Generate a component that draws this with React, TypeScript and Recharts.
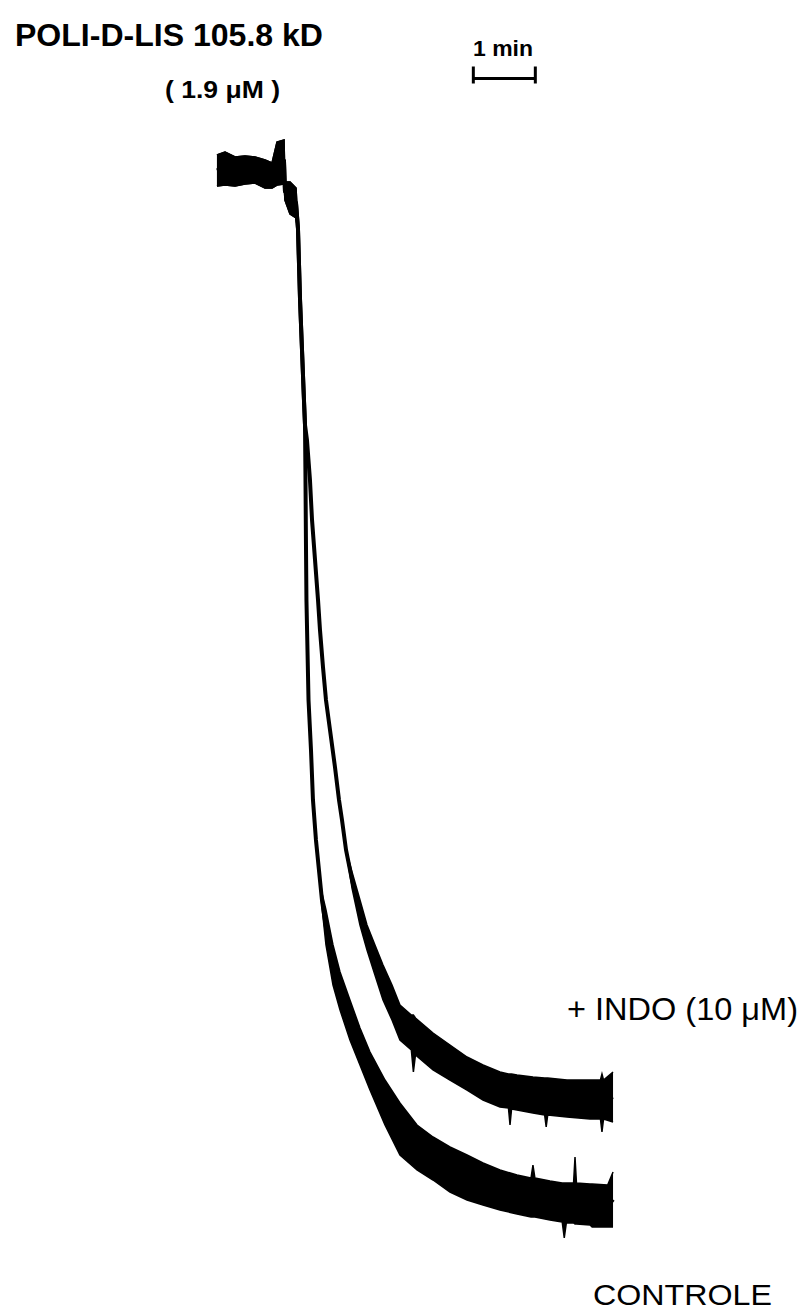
import { ComposedChart, Area, Line, XAxis, YAxis, ReferenceLine } from 'recharts';

// time in s, signal in arbitrary units (chart trace deflection)
const commonTime = [1.9, 9.7, 19.4, 29, 38.7, 48.4, 55.2, 60, 66.8, 67.7, 72.6, 78.4, 80.3, 82.3, 84.2, 86.1, 87.1];
const commonUpper = [107.5, 107.8, 107.3, 107.4, 107.3, 107, 106.7, 108.8, 109, 104.8, 104.8, 104.2, 100.5, 93, 88, 83, 80.5];
const commonLower = [104.4, 104.5, 104.4, 104.6, 104.7, 104.2, 104.2, 104.5, 104.6, 103, 101.6, 101.2, 99.8, 93, 88, 83, 80.5];

const controlTime = [87.5, 88, 88.5, 89.5, 90.5, 92.9, 94.8, 97.7, 100.6, 103.5, 107.4, 114.2, 121, 130.6, 140.3, 150, 164.5, 179, 195.5, 211, 227.4, 243.9, 259.4, 275.8, 292.3, 305.8, 307.7, 309.6, 324.2, 336, 338, 340, 347, 348.4, 349.8, 362.9, 365, 380, 385.2];
const controlUpper = [76, 69, 63, 58, 53, 48, 43, 39, 36, 33.7, 32, 28.5, 25.8, 23, 20.2, 17.8, 15, 12.7, 10.5, 9.3, 8.3, 7.5, 6.7, 6, 5.5, 5.2, 6.5, 5.2, 4.9, 4.7, 4.7, 4.7, 4.7, 7.3, 4.7, 4.6, 4.6, 4.5, 5.8];
const controlLower = [76, 69, 63, 58, 53, 48, 43, 39, 36, 32.3, 28.5, 24.5, 22, 19, 16.5, 14, 10.5, 7.5, 6, 5, 3.8, 3, 2.5, 2, 1.6, 1.3, 1.3, 1.3, 1.0, 0.8, -0.8, 0.7, 0.7, 0.6, 0.6, 0.5, 0.3, 0.3, 0.3];

const indoTime = [89, 91.9, 93.9, 96.8, 99.7, 101.6, 104.5, 107.4, 111.3, 116.1, 120, 122.9, 126.8, 132.6, 140.3, 147.1, 154.8, 162.6, 171.3, 179, 190, 192, 194, 211, 227.4, 243.9, 259.4, 275.8, 284, 285.5, 287, 292.3, 307.7, 319, 320.5, 322, 340.6, 362.9, 373, 374.5, 376, 385.2];
const indoUpper = [79, 75, 71, 67, 63, 60, 56.3, 53, 50, 46.3, 43, 41, 38, 35.8, 33, 30.5, 28.5, 26.5, 24.5, 22.5, 21.5, 21.5, 21.2, 19.7, 18.5, 17.3, 16.5, 15.8, 15.6, 15.6, 15.6, 15.5, 15.3, 15.2, 15.2, 15.2, 15, 15, 15, 15.6, 15, 15.8];
const indoLower = [79, 75, 71, 67, 63, 60, 56.3, 53, 50, 46.3, 43, 41, 38, 34.2, 30.5, 28, 25.5, 23, 21, 19, 18, 15.8, 17.5, 16, 15, 14, 13, 12.3, 12.2, 10.5, 12.1, 12, 11.7, 11.5, 10.3, 11.5, 11.3, 11.1, 11.1, 9.8, 11.1, 10.8];

// 1 min scale bar
const scaleStart = 250;
const scaleEnd = 310;
const scaleLevel = 115.15;

const toRows = (time: number[], upper: number[], lower: number[]) =>
  time.map((t, i) => ({ t, band: [lower[i], upper[i]], mid: (upper[i] + lower[i]) / 2 }));

const controlData = toRows(
  [...commonTime, ...controlTime],
  [...commonUpper, ...controlUpper],
  [...commonLower, ...controlLower]
);
const indoData = toRows(
  [...commonTime, ...indoTime],
  [...commonUpper, ...indoUpper],
  [...commonLower, ...indoLower]
);

const font = '"Liberation Sans", Arial, Helvetica, sans-serif';

export default function App() {
  return (
    <div style={{ position: 'absolute', left: 0, top: 0, width: 803, height: 1310, background: '#fff' }}>
      <ComposedChart width={803} height={1310} margin={{ top: 0, right: 174.67, bottom: 0, left: 215 }}>
        <XAxis type="number" dataKey="t" domain={[0, 400]} hide allowDataOverflow />
        <YAxis type="number" domain={[-8, 123]} hide allowDataOverflow />
        <Area data={controlData} dataKey="band" type="linear" stroke="#000" strokeWidth={1.5} fill="#000" fillOpacity={1} isAnimationActive={false} />
        <Area data={indoData} dataKey="band" type="linear" stroke="#000" strokeWidth={1.5} fill="#000" fillOpacity={1} isAnimationActive={false} />
        <Line data={controlData} dataKey="mid" type="linear" stroke="#000" strokeWidth={4} dot={false} isAnimationActive={false} />
        <Line data={indoData} dataKey="mid" type="linear" stroke="#000" strokeWidth={4} dot={false} isAnimationActive={false} />
        <ReferenceLine segment={[{ x: scaleStart, y: scaleLevel }, { x: scaleEnd, y: scaleLevel }]} stroke="#000" strokeWidth={3} ifOverflow="visible" />
        <ReferenceLine segment={[{ x: scaleStart, y: scaleLevel + 1.2 }, { x: scaleStart, y: scaleLevel - 0.5 }]} stroke="#000" strokeWidth={3} ifOverflow="visible" />
        <ReferenceLine segment={[{ x: scaleEnd, y: scaleLevel + 1.2 }, { x: scaleEnd, y: scaleLevel - 0.5 }]} stroke="#000" strokeWidth={3} ifOverflow="visible" />
      </ComposedChart>
      <svg width={803} height={1310} style={{ position: 'absolute', left: 0, top: 0, pointerEvents: 'none' }}>
        <text x={15} y={46} fontFamily={font} fontWeight="bold" fontSize={31} textLength={308} lengthAdjust="spacingAndGlyphs">POLI-D-LIS 105.8 kD</text>
        <text x={165} y={98} fontFamily={font} fontWeight="bold" fontSize={24} textLength={115} lengthAdjust="spacingAndGlyphs">( 1.9 μM )</text>
        <text x={473} y={56} fontFamily={font} fontWeight="bold" fontSize={22} textLength={60} lengthAdjust="spacingAndGlyphs">1 min</text>
        <text x={567} y={1020} fontFamily={font} fontSize={32} textLength={231} lengthAdjust="spacingAndGlyphs">+ INDO (10 μM)</text>
        <text x={593} y={1305} fontFamily={font} fontSize={29} textLength={179} lengthAdjust="spacingAndGlyphs">CONTROLE</text>
      </svg>
    </div>
  );
}
